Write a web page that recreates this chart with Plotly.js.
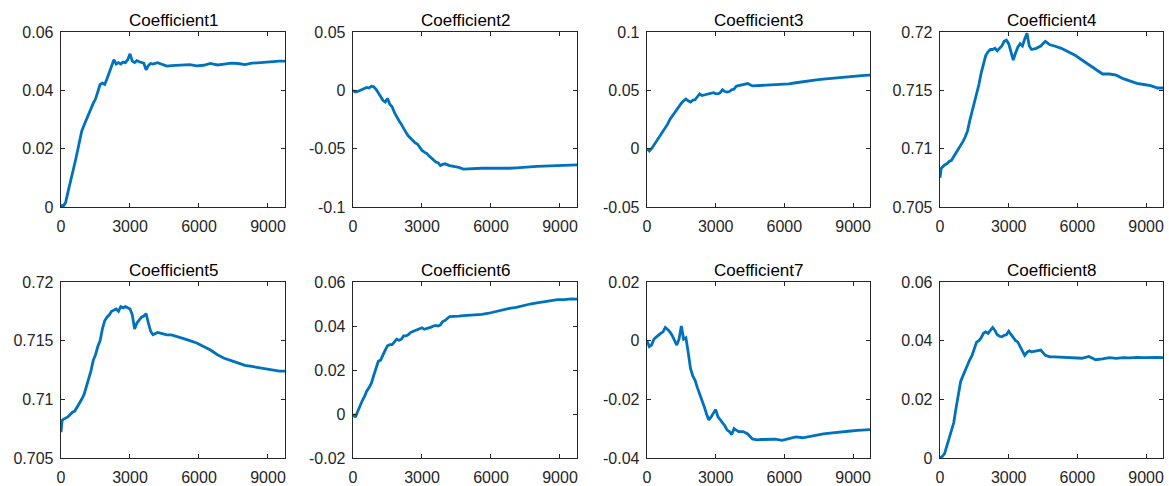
<!DOCTYPE html>
<html>
<head>
<meta charset="utf-8">
<script src="https://cdn.plot.ly/plotly-3.0.1.min.js"></script>
<style>html,body{margin:0;padding:0;background:#fff;}#chart{width:1169px;height:486px;}</style>
</head>
<body>
<div id="chart"></div>
<script>
// sample index
const iterations = [0,50,100,200,300,400,500,600,700,800,900,1000,1100,1200,1300,1400,1500,1600,1700,1800,1900,2000,2100,2200,2300,2400,2500,2600,2700,2800,2900,3000,3100,3200,3300,3400,3500,3600,3700,3800,3900,4000,4200,4400,4600,4800,5000,5300,5600,5900,6200,6500,6800,7100,7400,7700,8000,8300,8600,8900,9200,9500,9750];

const titles = ["Coefficient1","Coefficient2","Coefficient3","Coefficient4","Coefficient5","Coefficient6","Coefficient7","Coefficient8"];

const coef1 = [0,0.0005,0.0003,0.0015,0.005,0.008,0.0115,0.015,0.0185,0.022,0.026,0.028,0.030,0.032,0.034,0.0355,0.037,0.040,0.042,0.0425,0.042,0.044,0.046,0.048,0.0505,0.049,0.0495,0.049,0.0497,0.0495,0.0505,0.0525,0.050,0.0495,0.0502,0.0498,0.0495,0.0493,0.047,0.0485,0.0492,0.049,0.0495,0.0488,0.0483,0.0485,0.0486,0.0485,0.0488,0.0484,0.0486,0.0492,0.0487,0.049,0.0493,0.0492,0.0488,0.0493,0.0495,0.0497,0.0499,0.050,0.050];
const coef2 = [0,-0.001,-0.0015,-0.001,0,0.001,0.002,0.0025,0.002,0.0035,0.003,0.001,-0.002,-0.005,-0.0085,-0.010,-0.007,-0.012,-0.014,-0.019,-0.023,-0.026,-0.029,-0.033,-0.036,-0.039,-0.041,-0.043,-0.045,-0.046,-0.049,-0.0515,-0.053,-0.054,-0.056,-0.058,-0.060,-0.0615,-0.062,-0.0645,-0.0635,-0.063,-0.0645,-0.065,-0.066,-0.0675,-0.0672,-0.067,-0.0668,-0.0667,-0.0668,-0.0666,-0.0668,-0.0664,-0.0658,-0.0655,-0.0652,-0.065,-0.0647,-0.0645,-0.0642,-0.064,-0.0638];
const coef3 = [0,-0.001,-0.002,0.000,0.003,0.006,0.009,0.012,0.0145,0.018,0.021,0.025,0.028,0.031,0.033,0.036,0.039,0.041,0.0425,0.041,0.040,0.0415,0.042,0.0445,0.047,0.0455,0.046,0.0465,0.047,0.0475,0.048,0.0472,0.047,0.048,0.0505,0.049,0.0485,0.049,0.0505,0.051,0.0535,0.054,0.055,0.0558,0.0538,0.054,0.0542,0.0545,0.0545,0.0548,0.0555,0.0565,0.0575,0.0585,0.059,0.0597,0.0603,0.0608,0.0613,0.062,0.0625,0.0628,0.063];
const coef4 = [0.7075,0.7083,0.7084,0.7086,0.7087,0.7089,0.709,0.7093,0.7096,0.7099,0.7103,0.7106,0.711,0.7115,0.7124,0.7132,0.7138,0.7148,0.7155,0.7165,0.7174,0.718,0.7183,0.7185,0.7185,0.7186,0.7184,0.7186,0.7188,0.7192,0.7193,0.719,0.7183,0.7176,0.7182,0.7187,0.719,0.7188,0.7194,0.7199,0.7188,0.7185,0.7186,0.7188,0.7192,0.7189,0.7188,0.7186,0.7183,0.718,0.7176,0.7172,0.7168,0.7164,0.7164,0.7163,0.716,0.7158,0.7156,0.7155,0.7154,0.7152,0.7152];
const coef5 = [0.7072,0.7082,0.7083,0.7084,0.7085,0.7087,0.7089,0.709,0.7093,0.7096,0.71,0.7104,0.711,0.7117,0.7124,0.7133,0.7138,0.7145,0.715,0.716,0.7167,0.717,0.7172,0.7175,0.7176,0.7177,0.7175,0.7179,0.7178,0.7179,0.7178,0.7177,0.7172,0.716,0.7165,0.7168,0.717,0.7171,0.7173,0.7165,0.7158,0.7155,0.7157,0.7156,0.7155,0.7155,0.7154,0.7152,0.715,0.7148,0.7145,0.7142,0.7138,0.7135,0.7133,0.7131,0.7129,0.7128,0.7127,0.7126,0.7125,0.7124,0.7124];
const coef6 = [0,-0.001,-0.0015,0.001,0.004,0.006,0.008,0.0105,0.012,0.014,0.0175,0.0205,0.024,0.0245,0.027,0.029,0.031,0.0315,0.0315,0.033,0.034,0.0335,0.034,0.0355,0.0355,0.036,0.037,0.0375,0.038,0.0385,0.039,0.0392,0.0385,0.0388,0.039,0.0395,0.040,0.0403,0.040,0.0405,0.042,0.0425,0.0443,0.0443,0.0445,0.0447,0.0448,0.045,0.0453,0.0458,0.0465,0.0475,0.048,0.0485,0.0493,0.050,0.0505,0.051,0.0515,0.052,0.052,0.0523,0.0522];
const coef7 = [0,-0.0015,-0.002,-0.0015,0.0005,0.0012,0.002,0.0025,0.003,0.0045,0.0038,0.003,0.0018,0.0,-0.0015,0.0005,0.005,0.0005,0.001,-0.004,-0.0095,-0.012,-0.0135,-0.016,-0.018,-0.0205,-0.0225,-0.025,-0.027,-0.026,-0.0245,-0.0235,-0.026,-0.027,-0.028,-0.029,-0.0305,-0.031,-0.032,-0.030,-0.0305,-0.031,-0.031,-0.0318,-0.0335,-0.0338,-0.0337,-0.0337,-0.0336,-0.034,-0.0335,-0.0328,-0.0331,-0.0326,-0.0321,-0.0318,-0.0315,-0.0312,-0.031,-0.0308,-0.0306,-0.0304,-0.0303];
const coef8 = [0,0.0003,0.0005,0.0015,0.004,0.0065,0.009,0.012,0.017,0.022,0.026,0.028,0.030,0.032,0.0335,0.035,0.037,0.0395,0.040,0.041,0.0425,0.043,0.0425,0.0435,0.0445,0.0435,0.042,0.0415,0.0413,0.0418,0.042,0.0432,0.042,0.041,0.040,0.0395,0.038,0.0365,0.035,0.036,0.0365,0.0362,0.0365,0.0368,0.035,0.0345,0.0345,0.0344,0.0343,0.0342,0.034,0.0346,0.0335,0.0338,0.0342,0.034,0.0342,0.0341,0.0343,0.0342,0.0343,0.0343,0.0342];

const xTickVals = [0,3000,6000,9000];
const xTickText = ["0","3000","6000","9000"];
const yRanges = [[0,0.06],[-0.1,0.05],[-0.05,0.1],[0.705,0.72],[0.705,0.72],[-0.02,0.06],[-0.04,0.02],[0,0.06]];
const yTickVals = [
  [0,0.02,0.04,0.06],
  [-0.1,-0.05,0,0.05],
  [-0.05,0,0.05,0.1],
  [0.705,0.71,0.715,0.72],
  [0.705,0.71,0.715,0.72],
  [-0.02,0,0.02,0.04,0.06],
  [-0.04,-0.02,0,0.02],
  [0,0.02,0.04,0.06]
];
const yTickText = [
  ["0","0.02","0.04","0.06"],
  ["-0.1","-0.05","0","0.05"],
  ["-0.05","0","0.05","0.1"],
  ["0.705","0.71","0.715","0.72"],
  ["0.705","0.71","0.715","0.72"],
  ["-0.02","0","0.02","0.04","0.06"],
  ["-0.04","-0.02","0","0.02"],
  ["0","0.02","0.04","0.06"]
];
const series = [coef1,coef2,coef3,coef4,coef5,coef6,coef7,coef8];

const W = 1169, H = 486;
const colPx = [[61,285],[353,577],[647,870],[940,1163]];
const rowPx = [[32,207],[282,458]];
const fontFam = '"Liberation Sans", Arial, Helvetica, sans-serif';
const axisColor = '#262626';

const traces = [];
const layout = {
  width: W, height: H,
  margin: {l:0, r:0, t:0, b:0},
  paper_bgcolor: '#fff', plot_bgcolor: '#fff',
  showlegend: false,
  font: {family: fontFam, size: 16, color: axisColor},
  annotations: []
};

for (let i = 0; i < 8; i++) {
  const r = Math.floor(i / 4), c = i % 4;
  const s = i === 0 ? '' : String(i + 1);
  traces.push({
    x: iterations, y: series[i], type: 'scatter', mode: 'lines',
    line: {color: '#0072BD', width: 2.8},
    xaxis: 'x' + s, yaxis: 'y' + s, hoverinfo: 'skip'
  });
  const xd = [colPx[c][0] / W, colPx[c][1] / W];
  const yd = [1 - rowPx[r][1] / H, 1 - rowPx[r][0] / H];
  const common = {
    showgrid: false, zeroline: false, showline: true, linecolor: axisColor, linewidth: 1.3,
    mirror: 'allticks', ticks: 'inside', ticklen: 4, tickwidth: 1, tickcolor: axisColor,
    tickfont: {family: fontFam, size: 16, color: axisColor}, fixedrange: true
  };
  layout['xaxis' + s] = Object.assign({}, common, {
    domain: xd, range: [0, 9740], anchor: 'y' + s,
    tickmode: 'array', tickvals: xTickVals, ticktext: xTickText, ticklabelstandoff: 4
  });
  layout['yaxis' + s] = Object.assign({}, common, {
    domain: yd, range: yRanges[i], anchor: 'x' + s,
    tickmode: 'array', tickvals: yTickVals[i], ticktext: yTickText[i], ticklabelstandoff: 3
  });
  layout.annotations.push({
    text: titles[i], xref: 'paper', yref: 'paper',
    x: (xd[0] + xd[1]) / 2, y: yd[1], xanchor: 'center', yanchor: 'bottom', yshift: 0,
    showarrow: false, font: {family: fontFam, size: 17, color: '#000'}
  });
}

Plotly.newPlot('chart', traces, layout, {displayModeBar: false, staticPlot: true});
</script>
</body>
</html>
